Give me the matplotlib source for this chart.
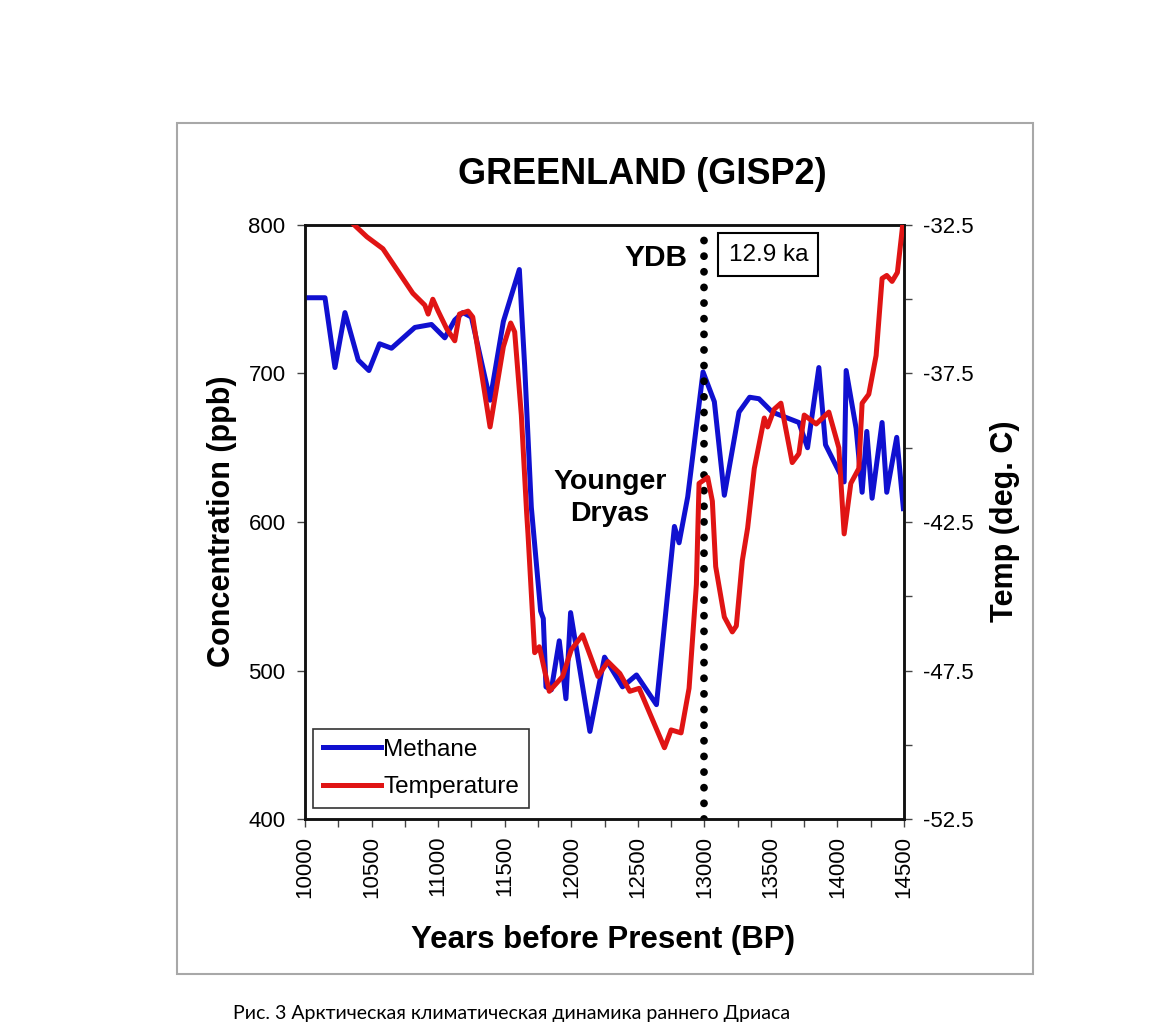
import matplotlib
matplotlib.use('Agg')
import matplotlib.pyplot as plt
from matplotlib.patches import Rectangle
from matplotlib.ticker import MultipleLocator

# methane (ppb)
methane_years = [10000, 10150, 10225, 10300, 10400, 10480, 10560, 10650, 10825, 10950,
                 11050, 11125, 11185, 11250, 11390, 11490, 11610, 11630, 11650, 11700,
                 11770, 11790, 11810, 11850, 11910, 11960, 11995, 12140, 12250, 12385,
                 12490, 12640, 12775, 12810, 12875, 12990, 13075, 13150, 13260, 13340,
                 13410, 13510, 13710, 13775, 13860, 13910, 14050, 14065, 14140, 14185,
                 14220, 14260, 14335, 14370, 14445, 14495]
methane_ppb = [751, 751, 704, 741, 709, 702, 720, 717, 731, 733,
               724, 736, 741, 738, 682, 735, 770, 737, 705, 610,
               540, 535, 489, 487, 520, 481, 539, 459, 509, 489,
               497, 477, 597, 586, 617, 701, 681, 618, 674, 684,
               683, 674, 667, 650, 704, 652, 627, 702, 663, 620,
               661, 616, 667, 620, 657, 609]

# temperature (deg C)
temp_years = [10370, 10465, 10585, 10690, 10810, 10900, 10925, 10960, 11000, 11065,
              11125, 11160, 11225, 11260, 11390, 11490, 11545, 11575, 11625, 11665,
              11675, 11725, 11760, 11835, 11935, 12000, 12085, 12200, 12275, 12365,
              12440, 12510, 12700, 12750, 12825, 12885, 12940, 12960, 13025, 13060,
              13085, 13150, 13210, 13240, 13285, 13325, 13375, 13450, 13475, 13525,
              13575, 13660, 13710, 13750, 13840, 13935, 14010, 14050, 14100, 14160,
              14185, 14235, 14290, 14335, 14370, 14410, 14450, 14490]
temp_c = [-32.5, -32.9, -33.3, -34.0, -34.8, -35.2, -35.5, -35.0, -35.4, -36.0,
          -36.4, -35.5, -35.4, -35.6, -39.3, -36.6, -35.8, -36.1, -38.9, -42.2,
          -42.9, -46.9, -46.7, -48.2, -47.7, -46.8, -46.3, -47.7, -47.2, -47.6,
          -48.2, -48.1, -50.1, -49.5, -49.6, -48.1, -44.6, -41.2, -41.0, -41.8,
          -44.0, -45.7, -46.2, -46.0, -43.8, -42.7, -40.7, -39.0, -39.3, -38.7,
          -38.5, -40.5, -40.2, -38.9, -39.2, -38.8, -40.0, -42.9, -41.2, -40.7,
          -38.5, -38.2, -36.9, -34.3, -34.2, -34.4, -34.1, -32.5]

ydb_year = 13000

plt.rcParams['font.family'] = ['Liberation Sans', 'DejaVu Sans']

fig = plt.figure(figsize=(11.58, 10.31), dpi=100)
ax = fig.add_axes([0.2634, 0.2056, 0.5173, 0.5762])
ax2 = ax.twinx()

# outer grey frame around the picture
fig.patches.append(Rectangle((177 / 1158, 1 - 974 / 1031), 856 / 1158, 851 / 1031,
                             transform=fig.transFigure, fill=False,
                             edgecolor='#a8a8a8', linewidth=1.5))

ax.plot(methane_years, methane_ppb, color='#1010d0', lw=3.6, label='Methane', zorder=3)
ax2.plot(temp_years, temp_c, color='#e01414', lw=3.6, label='Temperature', zorder=3)
ax.axvline(ydb_year, color='black', lw=5.6, linestyle=(0, (0.01, 2.0)),
           dash_capstyle='round', zorder=5)

ax.set_xlim(10000, 14500)
ax.set_ylim(400, 800)
ax2.set_ylim(-52.5, -32.5)

ax.xaxis.set_major_locator(MultipleLocator(500))
ax.xaxis.set_minor_locator(MultipleLocator(250))
ax.yaxis.set_major_locator(MultipleLocator(100))
ax2.yaxis.set_minor_locator(MultipleLocator(2.5))
ax2.set_yticks([-52.5, -47.5, -42.5, -37.5, -32.5])
ax2.set_yticklabels(['-52.5', '-47.5', '-42.5', '-37.5', '-32.5'])

ax.tick_params(axis='x', which='both', direction='out', length=6, width=1,
               labelsize=16, labelrotation=90, color='#444444', pad=6)
ax.tick_params(axis='y', direction='out', length=6, width=1, labelsize=16,
               color='#444444', pad=8)
ax2.tick_params(axis='y', which='both', direction='out', length=6, width=1,
                labelsize=16, color='#444444', pad=8)

for a in (ax, ax2):
    for s in a.spines.values():
        s.set_linewidth(1.8)
        s.set_color('#111111')

ax.text(12872, 778, 'YDB', ha='right', va='center', fontsize=21.5, fontweight='bold')
ax.text(13480, 780, '12.9 ka', ha='center', va='center', fontsize=17.5,
        bbox=dict(boxstyle='square,pad=0.42', facecolor='white', edgecolor='black', lw=1.5))
ax.text(12290, 616, 'Younger\nDryas', ha='center', va='center', fontsize=20.5,
        fontweight='bold', linespacing=1.3)

h1, l1 = ax.get_legend_handles_labels()
h2, l2 = ax2.get_legend_handles_labels()
leg = ax2.legend(h1 + h2, l1 + l2, loc='lower left', bbox_to_anchor=(0.013, 0.0185),
                 borderaxespad=0, fontsize=17.5, fancybox=False, handlelength=2.4,
                 handletextpad=0.1, borderpad=0.4, labelspacing=0.65, framealpha=1)
leg.get_frame().set_edgecolor('#333333')
leg.get_frame().set_linewidth(1.2)

fig.text(0.5544, 1 - 175 / 1031, 'GREENLAND (GISP2)', ha='center', va='center',
         fontsize=26, fontweight='bold')
fig.text(222 / 1158, 1 - 521 / 1031, 'Concentration (ppb)', ha='center', va='center',
         rotation=90, fontsize=22, fontweight='bold')
fig.text(1005 / 1158, 1 - 521 / 1031, 'Temp (deg. C)', ha='center', va='center',
         rotation=90, fontsize=22, fontweight='bold')
fig.text(603 / 1158, 1 - 940 / 1031, 'Years before Present (BP)', ha='center',
         va='center', fontsize=22.5, fontweight='bold')

fig.text(233 / 1158, 1 - 1013 / 1031,
         'Рис. 3 Арктическая климатическая динамика раннего Дриаса',
         ha='left', va='center', fontsize=14, family=['Lato', 'DejaVu Sans'])

fig.savefig('out.png', dpi=100)
